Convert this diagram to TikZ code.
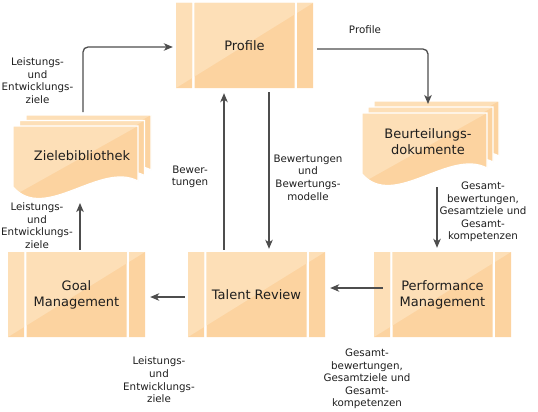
\documentclass[tikz,border=0pt]{standalone}
\usepackage{fontspec}
\setmainfont{DejaVu Sans}
\usetikzlibrary{arrows.meta,calc}
\definecolor{plight}{RGB}{253,223,183}
\definecolor{pdark}{RGB}{252,211,160}
\definecolor{conncol}{RGB}{77,77,77}
\definecolor{txtcol}{RGB}{30,30,30}

% process shape: #1 name, #2 centre, #3 text
\newcommand\procshape[3]{%
  \begin{scope}[shift={#2}]
    \fill[pdark] (-68.5,-42.5) rectangle (-52.5,42.5)
                 (-50,-42.5) rectangle (50,42.5)
                 (52.5,-42.5) rectangle (68.5,42.5);
    \begin{scope}
      \clip (-68.5,-42.5) -- (68.5,-42.5) -- (-68.5,42.5) -- cycle;
      \fill[plight] (-68.5,-42.5) rectangle (-52.5,42.5)
                    (-50,-42.5) rectangle (50,42.5)
                    (52.5,-42.5) rectangle (68.5,42.5);
    \end{scope}
    \node[proctext] (#1) at (0,0) {#3};
  \end{scope}}

% one document page, top-left corner at (#1,#2)
\newcommand\docpage[2]{%
  \begin{scope}[shift={(#1,#2)}]
    \fill[pdark] (0,0) -- (125,0) -- (125,55) .. controls (87,35) and (32,97) .. (0,61) -- cycle;
    \begin{scope}
      \clip (0,0) -- (125,0) -- (0,70) -- cycle;
      \fill[plight] (0,0) -- (125,0) -- (125,55) .. controls (87,35) and (32,97) .. (0,61) -- cycle;
    \end{scope}
    \draw[white, line width=1.2pt] (0,0) -- (125,0) -- (125,55) .. controls (87,35) and (32,97) .. (0,61) -- cycle;
  \end{scope}}

\begin{document}
\begin{tikzpicture}[x=1pt,y=-1pt,
  proctext/.style={minimum width=137pt, minimum height=85pt, inner sep=0pt, align=center,
     text=txtcol, font=\fontsize{13}{16}\selectfont},
  doctext/.style={inner sep=0pt, align=center, text=txtcol, font=\fontsize{13}{16}\selectfont},
  lbl/.style={inner sep=0pt, align=center, text=txtcol, font=\fontsize{10.3}{12.6}\selectfont},
  conn/.style={draw=conncol, line width=1.3pt, rounded corners=5pt,
     -{Stealth[length=9pt,width=7.5pt,inset=2.5pt]}}]
\useasboundingbox (0,0) rectangle (538,412);

% documents
\docpage{26}{115}
\docpage{19.5}{120.5}
\docpage{13}{126}
\node[doctext] (ziel) at (82,156) {Zielebibliothek};
\docpage{374}{101}
\docpage{368}{107}
\docpage{362}{113}
\node[doctext] (beurt) at (428,142) {Beurteilungs-\\dokumente};

% processes
\procshape{profile}{(244.5,45.5)}{Profile}
\procshape{talent}{(256.5,294.5)}{Talent Review}
\procshape{goal}{(76.5,294.5)}{Goal\\Management}
\procshape{perf}{(442.5,294.5)}{Performance\\Management}

% connector end points on the document shapes
\coordinate (zielTop) at (83,112);
\coordinate (zielBot) at (80,203);
\coordinate (beurTop) at (428,104);
\coordinate (beurBot) at (437,187);

% connectors
\draw[conn] (zielTop) |- ($(profile.west)+(-3,1.5)$);
\draw[conn] ($(profile.east)+(4,3.5)$) -| (beurTop);
\draw[conn] (beurBot) -- ($(perf.north)+(-5.5,-4)$);
\draw[conn] ($(perf.west)+(9,-6.5)$) -- ($(talent.east)+(5,-6.5)$);
\draw[conn] ($(talent.west)+(-3,2.5)$) -- ($(goal.east)+(5,2.5)$);
\draw[conn] ($(goal.north)+(3.5,-2)$) -- (zielBot);
\draw[conn] ($(talent.north)+(-32.5,-2)$) -- ($(profile.south)+(-20.5,5)$);
\draw[conn] ($(profile.south)+(24.5,4)$) -- ($(talent.north)+(12.5,-3)$);

% labels
\node[lbl] (l1) at (37.5,80.5) {Leistungs-\\und\\Entwicklungs-\\ziele};
\node[lbl] (lprof) at (365,30) {Profile};
\node[lbl] (lbew) at (190,177) {Bewer-\\tungen};
\node[lbl] (lbewmod) at (308,177.5) {Bewertungen\\und\\Bewertungs-\\modelle};
\node[lbl] (lges1) at (483,212) {Gesamt-\\bewertungen,\\Gesamtziele und\\Gesamt-\\kompetenzen};
\node[lbl] (l2) at (37,225.5) {Leistungs-\\und\\Entwicklungs-\\ziele};
\node[lbl] (l3) at (159,380) {Leistungs-\\und\\Entwicklungs-\\ziele};
\node[lbl] (lges2) at (367,379) {Gesamt-\\bewertungen,\\Gesamtziele und\\Gesamt-\\kompetenzen};
\end{tikzpicture}
\end{document}
